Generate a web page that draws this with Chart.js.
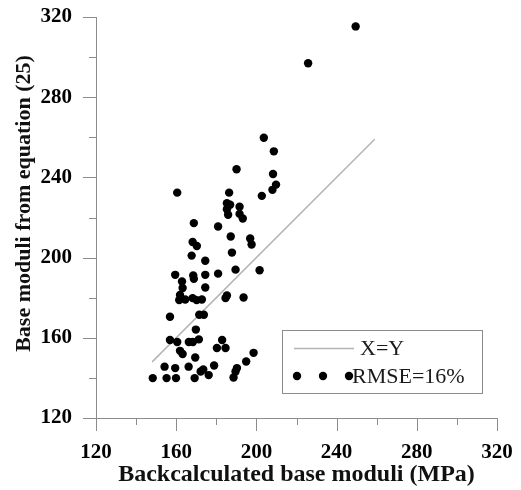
<!DOCTYPE html>
<html>
<head>
<meta charset="utf-8">
<script src="https://cdn.jsdelivr.net/npm/chart.js@4/dist/chart.umd.min.js"></script>
<style>
  html, body { margin: 0; padding: 0; background: #fff; }
  canvas { display: block; }
</style>
</head>
<body>
<canvas id="scatterChart" width="521" height="490"></canvas>
<script>
// backcalculated moduli (x) vs moduli from equation 25 (y), MPa
const backcalcModuli = [
    160.5, 186.4, 202.7, 208.0, 209.8, 185.3, 186.9, 191.6, 185.3, 185.9,
    191.6, 193.2, 168.8, 180.9, 187.2, 196.9, 197.6, 168.2, 170.3, 187.8,
    167.7, 174.5, 189.6, 201.6, 159.5, 174.5, 180.9, 168.5, 168.8, 162.9,
    163.2, 174.5, 161.9, 161.5, 164.5, 168.2, 170.2, 172.8, 184.6, 185.3,
    193.6, 156.9, 171.5, 173.8, 169.8, 156.9, 160.5, 166.3, 168.3, 171.3,
    161.9, 163.2, 169.5, 180.3, 182.9, 184.6, 198.6, 194.9, 154.2, 159.5,
    166.2, 178.9, 172.2, 173.5, 176.2, 190.3, 189.6, 188.6, 148.3, 155.2,
    159.9, 169.2, 208.3, 208.7, 190.1, 203.7, 225.8, 249.5
];
const equationModuli = [
    232.4, 232.4, 230.8, 233.8, 236.4, 227.1, 226.4, 225.4, 224.1, 221.4,
    221.8, 219.5, 217.2, 215.5, 210.5, 209.5, 206.5, 207.8, 205.8, 202.5,
    201.0, 198.4, 194.0, 193.7, 191.4, 191.4, 192.0, 191.1, 189.4, 188.1,
    184.8, 185.1, 181.4, 178.8, 179.1, 179.8, 178.8, 179.1, 179.8, 181.1,
    180.1, 170.5, 171.5, 171.5, 164.1, 158.9, 157.9, 157.9, 157.9, 159.2,
    153.5, 151.9, 150.2, 154.9, 158.9, 154.9, 152.5, 148.2, 145.6, 144.9,
    145.6, 146.2, 143.2, 144.2, 141.4, 144.9, 143.2, 140.2, 139.9, 139.9,
    139.9, 139.9, 241.7, 253.0, 244.1, 259.8, 296.9, 315.3
];

// X=Y reference line ends
const equalityX = [148, 259];
const equalityY = [148, 259];

const axisMin = 120;
const axisMax = 320;
const tickStep = 20;
const labelStep = 40;

const AXIS_GREY = '#8c8c8c';
const SERIF = '"Liberation Serif", "Times New Roman", serif';
const Y_TITLE = 'Base moduli from equation (25)';

const scatterPoints = backcalcModuli.map((x, i) => ({ x: x, y: equationModuli[i] }));
const equalityPoints = equalityX.map((x, i) => ({ x: x, y: equalityY[i] }));

// ticks every 20, long ones where there is a label
const tickMarks = {
    id: 'tickMarks',
    afterDraw(chart) {
        const ctx = chart.ctx;
        ctx.save();
        ctx.strokeStyle = AXIS_GREY;
        ctx.lineWidth = 1;
        const xs = chart.scales.x;
        const ys = chart.scales.y;
        xs.ticks.forEach(t => {
            const len = t.value % labelStep === 0 ? 13 : 7;
            const px = Math.round(xs.getPixelForValue(t.value)) + 0.5;
            ctx.beginPath();
            ctx.moveTo(px, xs.top);
            ctx.lineTo(px, xs.top + len);
            ctx.stroke();
        });
        ys.ticks.forEach(t => {
            const len = t.value % labelStep === 0 ? 13 : 7;
            const py = Math.round(ys.getPixelForValue(t.value)) + 0.5;
            ctx.beginPath();
            ctx.moveTo(ys.right, py);
            ctx.lineTo(ys.right - len, py);
            ctx.stroke();
        });

        // y title, sits a bit above the middle of the axis
        const area = chart.chartArea;
        ctx.translate(24, (area.top + area.bottom) / 2 - 14);
        ctx.rotate(-Math.PI / 2);
        ctx.font = 'bold 22px ' + SERIF;
        ctx.fillStyle = '#111';
        ctx.textAlign = 'center';
        ctx.textBaseline = 'middle';
        ctx.fillText(Y_TITLE, 0, 0);
        ctx.restore();
    }
};

// boxed legend, lower right inside the plot
const boxLegend = {
    id: 'boxLegend',
    afterDraw(chart) {
        const ctx = chart.ctx;
        const area = chart.chartArea;
        const left = area.right - 215;
        const top = area.bottom - 88;
        const w = 200, h = 63;
        ctx.save();
        ctx.strokeStyle = '#8c8c8c';
        ctx.lineWidth = 1;
        ctx.strokeRect(Math.round(left) + 0.5, Math.round(top) + 0.5, w, h);

        ctx.font = '22px ' + SERIF;
        ctx.fillStyle = '#1a1a1a';
        ctx.textBaseline = 'middle';
        ctx.textAlign = 'left';

        // row 1: line sample
        const lineDs = chart.data.datasets[0];
        ctx.strokeStyle = lineDs.borderColor;
        ctx.lineWidth = lineDs.borderWidth;
        ctx.beginPath();
        ctx.moveTo(left + 12, top + 18.5);
        ctx.lineTo(left + 72, top + 18.5);
        ctx.stroke();
        ctx.fillText(lineDs.label, left + 78, top + 19);

        // row 2: three dots
        const ptDs = chart.data.datasets[1];
        ctx.fillStyle = ptDs.backgroundColor;
        [15, 41, 67].forEach(dx => {
            ctx.beginPath();
            ctx.arc(left + dx, top + 46, 4.2, 0, Math.PI * 2);
            ctx.fill();
        });
        ctx.fillStyle = '#1a1a1a';
        ctx.fillText(ptDs.label, left + 70, top + 47);
        ctx.restore();
    }
};

const tickFont = () => ({ family: SERIF, size: 21, weight: 700 });

new Chart(document.getElementById('scatterChart'), {
    type: 'scatter',
    data: {
        datasets: [
            {
                type: 'line',
                label: 'X=Y',
                data: equalityPoints,
                borderColor: '#b4b4b4',
                borderWidth: 1.5,
                pointRadius: 0,
                fill: false,
                order: 2
            },
            {
                label: 'RMSE=16%',
                data: scatterPoints,
                backgroundColor: '#000000',
                borderWidth: 0,
                pointRadius: 4.2,
                pointHoverRadius: 4.2,
                order: 1
            }
        ]
    },
    options: {
        responsive: false,
        animation: false,
        layout: { padding: { top: 17, right: 24, left: 0, bottom: 0 } },
        plugins: {
            legend: { display: false },
            tooltip: { enabled: false }
        },
        scales: {
            x: {
                type: 'linear',
                min: axisMin,
                max: axisMax,
                afterFit(scale) {
                    scale.height = 72;
                    scale.paddingLeft = 0;
                    scale.paddingRight = 0;
                },
                grid: { display: false, drawTicks: false },
                border: { display: true, color: AXIS_GREY, width: 1 },
                ticks: {
                    stepSize: tickStep,
                    autoSkip: false,
                    maxRotation: 0,
                    padding: 22,
                    color: '#000',
                    font: tickFont,
                    callback: v => (v % labelStep === 0 ? v : '')
                },
                title: {
                    display: true,
                    text: 'Backcalculated base moduli (MPa)',
                    color: '#111',
                    font: { family: SERIF, size: 24, weight: 'bold' },
                    padding: { top: 0, bottom: 1 }
                }
            },
            y: {
                type: 'linear',
                min: axisMin,
                max: axisMax,
                afterFit(scale) {
                    scale.width = 96;
                    scale.paddingTop = 0;
                    scale.paddingBottom = 0;
                },
                grid: { display: false, drawTicks: false },
                border: { display: true, color: AXIS_GREY, width: 1 },
                ticks: {
                    stepSize: tickStep,
                    autoSkip: false,
                    padding: 24,
                    color: '#000',
                    font: tickFont,
                    callback: v => (v % labelStep === 0 ? v : '')
                },
                title: { display: false }
            }
        }
    },
    plugins: [tickMarks, boxLegend]
});
</script>
</body>
</html>
